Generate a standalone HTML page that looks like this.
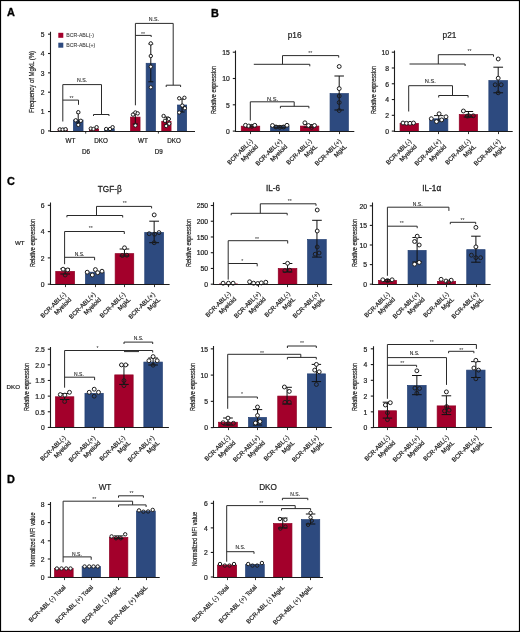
<!DOCTYPE html>
<html><head><meta charset="utf-8"><style>
html,body{margin:0;padding:0;background:#fff;}
body{width:520px;height:632px;overflow:hidden;}
svg{display:block;font-family:"Liberation Sans", sans-serif;}
</style></head><body>
<svg width="520" height="632" viewBox="0 0 520 632">
<defs><filter id="gs" x="0" y="0" width="520" height="632" filterUnits="userSpaceOnUse"><feColorMatrix type="saturate" values="0"/></filter></defs>
<rect x="0" y="0" width="520" height="632" fill="#fff"/>
<rect x="0.5" y="0.5" width="519" height="631" fill="none" stroke="#000" stroke-width="1.2"/>
<rect x="58.05" y="129.4" width="9.3" height="1.75" fill="#a3002b" stroke="#8e0024" stroke-width="0.7"/>
<rect x="73.35" y="120.04" width="9.7" height="11.11" fill="#2d4a7f" stroke="#233f72" stroke-width="0.7"/>
<rect x="89.35" y="129.01" width="9.3" height="2.14" fill="#a3002b" stroke="#8e0024" stroke-width="0.7"/>
<rect x="104.55" y="128.81" width="9.7" height="2.34" fill="#2d4a7f" stroke="#233f72" stroke-width="0.7"/>
<rect x="130.55" y="117.11" width="9.5" height="14.04" fill="#a3002b" stroke="#8e0024" stroke-width="0.7"/>
<rect x="146.15" y="63.29" width="9.3" height="67.86" fill="#2d4a7f" stroke="#233f72" stroke-width="0.7"/>
<rect x="161.75" y="121.41" width="9.3" height="9.74" fill="#a3002b" stroke="#8e0024" stroke-width="0.7"/>
<rect x="177.45" y="105.02" width="9.2" height="26.13" fill="#2d4a7f" stroke="#233f72" stroke-width="0.7"/>
<line x1="85.7" y1="131" x2="85.7" y2="133.6" stroke="#1c1c1c" stroke-width="0.9"/>
<line x1="158.4" y1="131" x2="158.4" y2="133.6" stroke="#1c1c1c" stroke-width="0.9"/>
<circle cx="59.8" cy="129.4" r="1.7" fill="#fff" stroke="#1c1c1c" stroke-width="1.0"/>
<circle cx="62.7" cy="129.6" r="1.7" fill="#fff" stroke="#1c1c1c" stroke-width="1.0"/>
<circle cx="65.6" cy="129.2" r="1.7" fill="#fff" stroke="#1c1c1c" stroke-width="1.0"/>
<line x1="78.2" y1="113" x2="78.2" y2="123" stroke="#111" stroke-width="1.0"/>
<line x1="76.2" y1="113" x2="80.2" y2="113" stroke="#111" stroke-width="1.0"/>
<line x1="76.2" y1="123" x2="80.2" y2="123" stroke="#111" stroke-width="1.0"/>
<circle cx="78.3" cy="112.2" r="1.7" fill="#fff" stroke="#1c1c1c" stroke-width="1.0"/>
<circle cx="75.7" cy="120.3" r="1.7" fill="#fff" stroke="#1c1c1c" stroke-width="1.0"/>
<circle cx="80.8" cy="120.8" r="1.7" fill="#fff" stroke="#1c1c1c" stroke-width="1.0"/>
<circle cx="78.3" cy="124.9" r="1.7" fill="#fff" stroke="#1c1c1c" stroke-width="1.0"/>
<circle cx="90.8" cy="128.6" r="1.7" fill="#fff" stroke="#1c1c1c" stroke-width="1.0"/>
<circle cx="93.5" cy="129" r="1.7" fill="#fff" stroke="#1c1c1c" stroke-width="1.0"/>
<circle cx="96.6" cy="127.2" r="1.7" fill="#fff" stroke="#1c1c1c" stroke-width="1.0"/>
<circle cx="106.2" cy="129" r="1.7" fill="#fff" stroke="#1c1c1c" stroke-width="1.0"/>
<circle cx="110" cy="129" r="1.7" fill="#fff" stroke="#1c1c1c" stroke-width="1.0"/>
<circle cx="112.6" cy="127.2" r="1.7" fill="#fff" stroke="#1c1c1c" stroke-width="1.0"/>
<line x1="135.3" y1="112.5" x2="135.3" y2="124" stroke="#111" stroke-width="1.0"/>
<line x1="132.8" y1="112.5" x2="137.8" y2="112.5" stroke="#111" stroke-width="1.0"/>
<line x1="132.8" y1="124" x2="137.8" y2="124" stroke="#111" stroke-width="1.0"/>
<circle cx="133" cy="114.6" r="1.7" fill="#fff" stroke="#1c1c1c" stroke-width="1.0"/>
<circle cx="135.4" cy="112.5" r="1.7" fill="#fff" stroke="#1c1c1c" stroke-width="1.0"/>
<circle cx="137.7" cy="113.4" r="1.7" fill="#fff" stroke="#1c1c1c" stroke-width="1.0"/>
<circle cx="135.4" cy="125.5" r="1.7" fill="#fff" stroke="#1c1c1c" stroke-width="1.0"/>
<line x1="150.8" y1="44" x2="150.8" y2="81.8" stroke="#111" stroke-width="1.0"/>
<line x1="148.3" y1="44" x2="153.3" y2="44" stroke="#111" stroke-width="1.0"/>
<line x1="148.3" y1="81.8" x2="153.3" y2="81.8" stroke="#111" stroke-width="1.0"/>
<circle cx="150.8" cy="43.4" r="1.7" fill="#fff" stroke="#1c1c1c" stroke-width="1.0"/>
<circle cx="150.8" cy="56" r="1.7" fill="#fff" stroke="#1c1c1c" stroke-width="1.0"/>
<circle cx="150.8" cy="66.7" r="1.7" fill="#fff" stroke="#1c1c1c" stroke-width="1.0"/>
<circle cx="150.8" cy="87.3" r="1.7" fill="#fff" stroke="#1c1c1c" stroke-width="1.0"/>
<line x1="166.4" y1="117" x2="166.4" y2="125" stroke="#111" stroke-width="1.0"/>
<line x1="163.9" y1="117" x2="168.9" y2="117" stroke="#111" stroke-width="1.0"/>
<line x1="163.9" y1="125" x2="168.9" y2="125" stroke="#111" stroke-width="1.0"/>
<circle cx="163.6" cy="116" r="1.7" fill="#fff" stroke="#1c1c1c" stroke-width="1.0"/>
<circle cx="165" cy="120.8" r="1.7" fill="#fff" stroke="#1c1c1c" stroke-width="1.0"/>
<circle cx="168.8" cy="119" r="1.7" fill="#fff" stroke="#1c1c1c" stroke-width="1.0"/>
<circle cx="166.2" cy="126" r="1.7" fill="#fff" stroke="#1c1c1c" stroke-width="1.0"/>
<circle cx="169.2" cy="123.7" r="1.7" fill="#fff" stroke="#1c1c1c" stroke-width="1.0"/>
<line x1="182.05" y1="99" x2="182.05" y2="112" stroke="#111" stroke-width="1.0"/>
<line x1="179.55" y1="99" x2="184.55" y2="99" stroke="#111" stroke-width="1.0"/>
<line x1="179.55" y1="112" x2="184.55" y2="112" stroke="#111" stroke-width="1.0"/>
<circle cx="179.2" cy="98.3" r="1.7" fill="#fff" stroke="#1c1c1c" stroke-width="1.0"/>
<circle cx="184.4" cy="97.8" r="1.7" fill="#fff" stroke="#1c1c1c" stroke-width="1.0"/>
<circle cx="182.3" cy="105.6" r="1.7" fill="#fff" stroke="#1c1c1c" stroke-width="1.0"/>
<circle cx="179.2" cy="112.5" r="1.7" fill="#fff" stroke="#1c1c1c" stroke-width="1.0"/>
<circle cx="184.9" cy="108.2" r="1.7" fill="#fff" stroke="#1c1c1c" stroke-width="1.0"/>
<rect x="58.3" y="32.8" width="5" height="5" fill="#a3002b"/>
<rect x="58.3" y="42.7" width="5" height="5" fill="#2d4a7f"/>
<path d="M62.8,121.5V84.6H101.5V114.3" fill="none" stroke="#2a2a2a" stroke-width="1.0"/>
<path d="M93.5,116V114.5H109V116" fill="none" stroke="#2a2a2a" stroke-width="1.0"/>
<path d="M62.8,100.1H78.5V104.8" fill="none" stroke="#2a2a2a" stroke-width="1.0"/>
<path d="M135.4,105.3V23.4H173.2V85.2" fill="none" stroke="#2a2a2a" stroke-width="1.0"/>
<path d="M166.2,87V85.2H180.6V87" fill="none" stroke="#2a2a2a" stroke-width="1.0"/>
<path d="M135.4,35.4H151.2V37" fill="none" stroke="#2a2a2a" stroke-width="1.0"/>
<rect x="241.25" y="126.19" width="18.5" height="4.96" fill="#a3002b" stroke="#8e0024" stroke-width="0.7"/>
<line x1="250.5" y1="131.1" x2="250.5" y2="134.1" stroke="#333" stroke-width="1.0"/>
<rect x="270.55" y="126.61" width="18.5" height="4.54" fill="#2d4a7f" stroke="#233f72" stroke-width="0.7"/>
<line x1="279.5" y1="131.1" x2="279.5" y2="134.1" stroke="#333" stroke-width="1.0"/>
<rect x="300.35" y="126.08" width="18.5" height="5.07" fill="#a3002b" stroke="#8e0024" stroke-width="0.7"/>
<line x1="309.5" y1="131.1" x2="309.5" y2="134.1" stroke="#333" stroke-width="1.0"/>
<rect x="330.05" y="93.58" width="18.3" height="37.57" fill="#2d4a7f" stroke="#233f72" stroke-width="0.7"/>
<line x1="339.5" y1="131.1" x2="339.5" y2="134.1" stroke="#333" stroke-width="1.0"/>
<line x1="250.5" y1="125.3" x2="250.5" y2="126.8" stroke="#111" stroke-width="1.0"/>
<line x1="244.5" y1="125.3" x2="256.5" y2="125.3" stroke="#111" stroke-width="1.0"/>
<line x1="244.5" y1="126.8" x2="256.5" y2="126.8" stroke="#111" stroke-width="1.0"/>
<circle cx="245.5" cy="125.3" r="1.95" fill="#fff" stroke="#1c1c1c" stroke-width="1.0"/>
<circle cx="248.8" cy="126" r="1.95" fill="#fff" stroke="#1c1c1c" stroke-width="1.0"/>
<circle cx="251.8" cy="126.3" r="1.95" fill="none" stroke="#1c1c1c" stroke-width="1.0"/>
<circle cx="254.8" cy="125.3" r="1.95" fill="#fff" stroke="#1c1c1c" stroke-width="1.0"/>
<line x1="279.8" y1="125.8" x2="279.8" y2="127.8" stroke="#111" stroke-width="1.0"/>
<line x1="273.8" y1="125.8" x2="285.8" y2="125.8" stroke="#111" stroke-width="1.0"/>
<line x1="273.8" y1="127.8" x2="285.8" y2="127.8" stroke="#111" stroke-width="1.0"/>
<circle cx="272.5" cy="125.5" r="1.95" fill="#fff" stroke="#1c1c1c" stroke-width="1.0"/>
<circle cx="276" cy="127" r="1.95" fill="none" stroke="#1c1c1c" stroke-width="1.0"/>
<circle cx="279.8" cy="127.3" r="1.95" fill="none" stroke="#1c1c1c" stroke-width="1.0"/>
<circle cx="283.5" cy="127" r="1.95" fill="none" stroke="#1c1c1c" stroke-width="1.0"/>
<circle cx="287" cy="125.3" r="1.95" fill="#fff" stroke="#1c1c1c" stroke-width="1.0"/>
<line x1="309.6" y1="124.6" x2="309.6" y2="127.2" stroke="#111" stroke-width="1.0"/>
<line x1="303.6" y1="124.6" x2="315.6" y2="124.6" stroke="#111" stroke-width="1.0"/>
<line x1="303.6" y1="127.2" x2="315.6" y2="127.2" stroke="#111" stroke-width="1.0"/>
<circle cx="304.9" cy="122.8" r="1.95" fill="#fff" stroke="#1c1c1c" stroke-width="1.0"/>
<circle cx="308.5" cy="125.5" r="1.95" fill="#fff" stroke="#1c1c1c" stroke-width="1.0"/>
<circle cx="311.6" cy="127.4" r="1.95" fill="none" stroke="#1c1c1c" stroke-width="1.0"/>
<circle cx="314.5" cy="125.5" r="1.95" fill="#fff" stroke="#1c1c1c" stroke-width="1.0"/>
<line x1="339.2" y1="76" x2="339.2" y2="110" stroke="#111" stroke-width="1.0"/>
<line x1="334.45" y1="76" x2="343.95" y2="76" stroke="#111" stroke-width="1.0"/>
<line x1="334.45" y1="110" x2="343.95" y2="110" stroke="#111" stroke-width="1.0"/>
<circle cx="339.2" cy="66.5" r="1.95" fill="#fff" stroke="#1c1c1c" stroke-width="1.0"/>
<circle cx="339.2" cy="88.6" r="1.95" fill="#fff" stroke="#1c1c1c" stroke-width="1.0"/>
<circle cx="339.2" cy="96" r="1.95" fill="none" stroke="#1c1c1c" stroke-width="1.0"/>
<circle cx="339.2" cy="102.5" r="1.95" fill="none" stroke="#1c1c1c" stroke-width="1.0"/>
<circle cx="339.2" cy="110.5" r="1.95" fill="none" stroke="#1c1c1c" stroke-width="1.0"/>
<path d="M253.8,64.3H309.8V66.3" fill="none" stroke="#2a2a2a" stroke-width="1.0"/>
<path d="M282.5,64.3V55.6H338.7V57.6" fill="none" stroke="#2a2a2a" stroke-width="1.0"/>
<path d="M250.3,120.6V101.8H294.2V106.3" fill="none" stroke="#2a2a2a" stroke-width="1.0"/>
<path d="M280.4,108.3V106.3H308.9V108.3" fill="none" stroke="#2a2a2a" stroke-width="1.0"/>
<rect x="400.05" y="123.4" width="18.3" height="7.75" fill="#a3002b" stroke="#8e0024" stroke-width="0.7"/>
<line x1="409.5" y1="131.1" x2="409.5" y2="134.1" stroke="#333" stroke-width="1.0"/>
<rect x="429.65" y="118.83" width="18.2" height="12.32" fill="#2d4a7f" stroke="#233f72" stroke-width="0.7"/>
<line x1="438.5" y1="131.1" x2="438.5" y2="134.1" stroke="#333" stroke-width="1.0"/>
<rect x="459.25" y="114.57" width="18.3" height="16.58" fill="#a3002b" stroke="#8e0024" stroke-width="0.7"/>
<line x1="468.5" y1="131.1" x2="468.5" y2="134.1" stroke="#333" stroke-width="1.0"/>
<rect x="488.85" y="80.56" width="18.7" height="50.59" fill="#2d4a7f" stroke="#233f72" stroke-width="0.7"/>
<line x1="498.5" y1="131.1" x2="498.5" y2="134.1" stroke="#333" stroke-width="1.0"/>
<circle cx="403" cy="123" r="1.95" fill="#fff" stroke="#1c1c1c" stroke-width="1.0"/>
<circle cx="406.5" cy="123.3" r="1.95" fill="#fff" stroke="#1c1c1c" stroke-width="1.0"/>
<circle cx="410" cy="123.3" r="1.95" fill="#fff" stroke="#1c1c1c" stroke-width="1.0"/>
<circle cx="413.5" cy="123" r="1.95" fill="#fff" stroke="#1c1c1c" stroke-width="1.0"/>
<line x1="438.75" y1="115.6" x2="438.75" y2="121" stroke="#111" stroke-width="1.0"/>
<line x1="434.02" y1="115.6" x2="443.48" y2="115.6" stroke="#111" stroke-width="1.0"/>
<line x1="434.02" y1="121" x2="443.48" y2="121" stroke="#111" stroke-width="1.0"/>
<circle cx="431.3" cy="118.7" r="1.95" fill="#fff" stroke="#1c1c1c" stroke-width="1.0"/>
<circle cx="436.5" cy="121.6" r="1.95" fill="#fff" stroke="#1c1c1c" stroke-width="1.0"/>
<circle cx="439.1" cy="113.8" r="1.95" fill="#fff" stroke="#1c1c1c" stroke-width="1.0"/>
<circle cx="441.7" cy="119.9" r="1.95" fill="#fff" stroke="#1c1c1c" stroke-width="1.0"/>
<circle cx="446" cy="116.8" r="1.95" fill="#fff" stroke="#1c1c1c" stroke-width="1.0"/>
<line x1="468.4" y1="111.5" x2="468.4" y2="117" stroke="#111" stroke-width="1.0"/>
<line x1="463.65" y1="111.5" x2="473.15" y2="111.5" stroke="#111" stroke-width="1.0"/>
<line x1="463.65" y1="117" x2="473.15" y2="117" stroke="#111" stroke-width="1.0"/>
<circle cx="463.4" cy="111" r="1.95" fill="#fff" stroke="#1c1c1c" stroke-width="1.0"/>
<circle cx="468.9" cy="115.8" r="1.95" fill="none" stroke="#1c1c1c" stroke-width="1.0"/>
<circle cx="473.3" cy="115.8" r="1.95" fill="none" stroke="#1c1c1c" stroke-width="1.0"/>
<circle cx="467.2" cy="116.1" r="1.95" fill="none" stroke="#1c1c1c" stroke-width="1.0"/>
<line x1="498.2" y1="67.2" x2="498.2" y2="92.8" stroke="#111" stroke-width="1.0"/>
<line x1="493.35" y1="67.2" x2="503.05" y2="67.2" stroke="#111" stroke-width="1.0"/>
<line x1="493.35" y1="92.8" x2="503.05" y2="92.8" stroke="#111" stroke-width="1.0"/>
<circle cx="498.2" cy="59" r="1.95" fill="#fff" stroke="#1c1c1c" stroke-width="1.0"/>
<circle cx="498.2" cy="78.2" r="1.95" fill="#fff" stroke="#1c1c1c" stroke-width="1.0"/>
<circle cx="495.2" cy="84.8" r="1.95" fill="none" stroke="#1c1c1c" stroke-width="1.0"/>
<circle cx="501.2" cy="84.8" r="1.95" fill="none" stroke="#1c1c1c" stroke-width="1.0"/>
<circle cx="498.2" cy="92.8" r="1.95" fill="none" stroke="#1c1c1c" stroke-width="1.0"/>
<path d="M409.5,64H465.1V66" fill="none" stroke="#2a2a2a" stroke-width="1.0"/>
<path d="M438.3,64V54.7H493.5V56.7" fill="none" stroke="#2a2a2a" stroke-width="1.0"/>
<path d="M408.7,111.5V85.7H452.5V95.5" fill="none" stroke="#2a2a2a" stroke-width="1.0"/>
<path d="M438.7,97.5V95.5H468.1V97.5" fill="none" stroke="#2a2a2a" stroke-width="1.0"/>
<rect x="55.75" y="271.4" width="18.8" height="12.75" fill="#a3002b" stroke="#8e0024" stroke-width="0.7"/>
<line x1="65.5" y1="284.2" x2="65.5" y2="287.1" stroke="#333" stroke-width="1.0"/>
<rect x="85.45" y="272.19" width="18.8" height="11.96" fill="#2d4a7f" stroke="#233f72" stroke-width="0.7"/>
<line x1="95.5" y1="284.2" x2="95.5" y2="287.1" stroke="#333" stroke-width="1.0"/>
<rect x="115.15" y="253.65" width="18.6" height="30.5" fill="#a3002b" stroke="#8e0024" stroke-width="0.7"/>
<line x1="124.5" y1="284.2" x2="124.5" y2="287.1" stroke="#333" stroke-width="1.0"/>
<rect x="144.75" y="232.48" width="18.8" height="51.67" fill="#2d4a7f" stroke="#233f72" stroke-width="0.7"/>
<line x1="154.5" y1="284.2" x2="154.5" y2="287.1" stroke="#333" stroke-width="1.0"/>
<line x1="65.15" y1="268.8" x2="65.15" y2="274" stroke="#111" stroke-width="1.0"/>
<line x1="60.28" y1="268.8" x2="70.03" y2="268.8" stroke="#111" stroke-width="1.0"/>
<line x1="60.28" y1="274" x2="70.03" y2="274" stroke="#111" stroke-width="1.0"/>
<circle cx="63.1" cy="269.2" r="1.95" fill="#fff" stroke="#1c1c1c" stroke-width="1.0"/>
<circle cx="67.7" cy="269.9" r="1.95" fill="#fff" stroke="#1c1c1c" stroke-width="1.0"/>
<circle cx="65.15" cy="275" r="1.95" fill="none" stroke="#1c1c1c" stroke-width="1.0"/>
<circle cx="87.2" cy="272.2" r="1.95" fill="#fff" stroke="#1c1c1c" stroke-width="1.0"/>
<circle cx="92.3" cy="275" r="1.95" fill="#fff" stroke="#1c1c1c" stroke-width="1.0"/>
<circle cx="95.4" cy="269.6" r="1.95" fill="#fff" stroke="#1c1c1c" stroke-width="1.0"/>
<circle cx="97.7" cy="272.7" r="1.95" fill="#fff" stroke="#1c1c1c" stroke-width="1.0"/>
<circle cx="102" cy="271.2" r="1.95" fill="#fff" stroke="#1c1c1c" stroke-width="1.0"/>
<line x1="124.45" y1="249" x2="124.45" y2="256" stroke="#111" stroke-width="1.0"/>
<line x1="119.62" y1="249" x2="129.27" y2="249" stroke="#111" stroke-width="1.0"/>
<line x1="119.62" y1="256" x2="129.27" y2="256" stroke="#111" stroke-width="1.0"/>
<circle cx="124.5" cy="247.8" r="1.95" fill="#fff" stroke="#1c1c1c" stroke-width="1.0"/>
<circle cx="122.4" cy="255.5" r="1.95" fill="none" stroke="#1c1c1c" stroke-width="1.0"/>
<circle cx="126.8" cy="255.2" r="1.95" fill="none" stroke="#1c1c1c" stroke-width="1.0"/>
<line x1="154.15" y1="221.2" x2="154.15" y2="242.7" stroke="#111" stroke-width="1.0"/>
<line x1="149.28" y1="221.2" x2="159.03" y2="221.2" stroke="#111" stroke-width="1.0"/>
<line x1="149.28" y1="242.7" x2="159.03" y2="242.7" stroke="#111" stroke-width="1.0"/>
<circle cx="154.2" cy="214.9" r="1.95" fill="#fff" stroke="#1c1c1c" stroke-width="1.0"/>
<circle cx="149.2" cy="233.7" r="1.95" fill="none" stroke="#1c1c1c" stroke-width="1.0"/>
<circle cx="154.6" cy="234.2" r="1.95" fill="none" stroke="#1c1c1c" stroke-width="1.0"/>
<circle cx="159" cy="232.6" r="1.95" fill="none" stroke="#1c1c1c" stroke-width="1.0"/>
<circle cx="154.2" cy="242.7" r="1.95" fill="none" stroke="#1c1c1c" stroke-width="1.0"/>
<path d="M66.9,217.3V215.5H122.7V217.5" fill="none" stroke="#2a2a2a" stroke-width="1.0"/>
<path d="M96.5,215.5V206.4H151.6V208.4" fill="none" stroke="#2a2a2a" stroke-width="1.0"/>
<path d="M64.6,264.2V231.5H124.3V234" fill="none" stroke="#2a2a2a" stroke-width="1.0"/>
<path d="M64.6,257.3H94.6V260.2" fill="none" stroke="#2a2a2a" stroke-width="1.0"/>
<rect x="219.55" y="283.92" width="17.8" height="0.23" fill="#a3002b" stroke="#8e0024" stroke-width="0.7"/>
<line x1="228.5" y1="284.2" x2="228.5" y2="287.1" stroke="#333" stroke-width="1.0"/>
<rect x="248.95" y="284.17" width="18.3" height="0.1" fill="#2d4a7f" stroke="#233f72" stroke-width="0.7"/>
<line x1="258.5" y1="284.2" x2="258.5" y2="287.1" stroke="#333" stroke-width="1.0"/>
<rect x="278.25" y="268.56" width="18.6" height="15.59" fill="#a3002b" stroke="#8e0024" stroke-width="0.7"/>
<line x1="287.5" y1="284.2" x2="287.5" y2="287.1" stroke="#333" stroke-width="1.0"/>
<rect x="307.65" y="239.53" width="18.6" height="44.62" fill="#2d4a7f" stroke="#233f72" stroke-width="0.7"/>
<line x1="317.5" y1="284.2" x2="317.5" y2="287.1" stroke="#333" stroke-width="1.0"/>
<circle cx="223.1" cy="283.2" r="1.95" fill="#fff" stroke="#1c1c1c" stroke-width="1.0"/>
<circle cx="228.5" cy="283.2" r="1.95" fill="#fff" stroke="#1c1c1c" stroke-width="1.0"/>
<circle cx="233.1" cy="283.2" r="1.95" fill="#fff" stroke="#1c1c1c" stroke-width="1.0"/>
<circle cx="249.6" cy="281.8" r="1.95" fill="#fff" stroke="#1c1c1c" stroke-width="1.0"/>
<circle cx="253.6" cy="283.2" r="1.95" fill="#fff" stroke="#1c1c1c" stroke-width="1.0"/>
<circle cx="257.7" cy="283.5" r="1.95" fill="#fff" stroke="#1c1c1c" stroke-width="1.0"/>
<circle cx="261.3" cy="282.9" r="1.95" fill="#fff" stroke="#1c1c1c" stroke-width="1.0"/>
<circle cx="265.8" cy="282.2" r="1.95" fill="#fff" stroke="#1c1c1c" stroke-width="1.0"/>
<line x1="287.55" y1="263.5" x2="287.55" y2="272" stroke="#111" stroke-width="1.0"/>
<line x1="282.72" y1="263.5" x2="292.37" y2="263.5" stroke="#111" stroke-width="1.0"/>
<line x1="282.72" y1="272" x2="292.37" y2="272" stroke="#111" stroke-width="1.0"/>
<circle cx="287.6" cy="263.3" r="1.95" fill="#fff" stroke="#1c1c1c" stroke-width="1.0"/>
<circle cx="284.9" cy="270.7" r="1.95" fill="none" stroke="#1c1c1c" stroke-width="1.0"/>
<circle cx="289.8" cy="270.2" r="1.95" fill="none" stroke="#1c1c1c" stroke-width="1.0"/>
<line x1="316.95" y1="220.3" x2="316.95" y2="257.1" stroke="#111" stroke-width="1.0"/>
<line x1="312.13" y1="220.3" x2="321.78" y2="220.3" stroke="#111" stroke-width="1.0"/>
<line x1="312.13" y1="257.1" x2="321.78" y2="257.1" stroke="#111" stroke-width="1.0"/>
<circle cx="317.2" cy="210" r="1.95" fill="#fff" stroke="#1c1c1c" stroke-width="1.0"/>
<circle cx="317.2" cy="231" r="1.95" fill="#fff" stroke="#1c1c1c" stroke-width="1.0"/>
<circle cx="317.2" cy="247" r="1.95" fill="none" stroke="#1c1c1c" stroke-width="1.0"/>
<circle cx="315.2" cy="254.2" r="1.95" fill="none" stroke="#1c1c1c" stroke-width="1.0"/>
<circle cx="319.1" cy="253" r="1.95" fill="none" stroke="#1c1c1c" stroke-width="1.0"/>
<path d="M231.2,215.2V213.3H287.2V215.3" fill="none" stroke="#2a2a2a" stroke-width="1.0"/>
<path d="M260.3,213.3V203.8H316V205.8" fill="none" stroke="#2a2a2a" stroke-width="1.0"/>
<path d="M228.2,279.6V240.7H287.7V243.5" fill="none" stroke="#2a2a2a" stroke-width="1.0"/>
<path d="M228.2,263.5H257.2V266.3" fill="none" stroke="#2a2a2a" stroke-width="1.0"/>
<rect x="378.55" y="280.43" width="18" height="3.72" fill="#a3002b" stroke="#8e0024" stroke-width="0.7"/>
<line x1="387.5" y1="284.2" x2="387.5" y2="287.1" stroke="#333" stroke-width="1.0"/>
<rect x="408.05" y="250.45" width="18.1" height="33.7" fill="#2d4a7f" stroke="#233f72" stroke-width="0.7"/>
<line x1="417.5" y1="284.2" x2="417.5" y2="287.1" stroke="#333" stroke-width="1.0"/>
<rect x="437.35" y="281.34" width="18.3" height="2.81" fill="#a3002b" stroke="#8e0024" stroke-width="0.7"/>
<line x1="446.5" y1="284.2" x2="446.5" y2="287.1" stroke="#333" stroke-width="1.0"/>
<rect x="466.75" y="249.66" width="18.3" height="34.49" fill="#2d4a7f" stroke="#233f72" stroke-width="0.7"/>
<line x1="476.5" y1="284.2" x2="476.5" y2="287.1" stroke="#333" stroke-width="1.0"/>
<line x1="387.55" y1="279.6" x2="387.55" y2="281.6" stroke="#111" stroke-width="1.0"/>
<line x1="382.87" y1="279.6" x2="392.22" y2="279.6" stroke="#111" stroke-width="1.0"/>
<line x1="382.87" y1="281.6" x2="392.22" y2="281.6" stroke="#111" stroke-width="1.0"/>
<circle cx="382.8" cy="279.8" r="1.95" fill="#fff" stroke="#1c1c1c" stroke-width="1.0"/>
<circle cx="387.5" cy="280.6" r="1.95" fill="none" stroke="#1c1c1c" stroke-width="1.0"/>
<circle cx="392.1" cy="279.8" r="1.95" fill="#fff" stroke="#1c1c1c" stroke-width="1.0"/>
<line x1="417.1" y1="237.5" x2="417.1" y2="262" stroke="#111" stroke-width="1.0"/>
<line x1="412.4" y1="237.5" x2="421.8" y2="237.5" stroke="#111" stroke-width="1.0"/>
<line x1="412.4" y1="262" x2="421.8" y2="262" stroke="#111" stroke-width="1.0"/>
<circle cx="417.2" cy="236.2" r="1.95" fill="#fff" stroke="#1c1c1c" stroke-width="1.0"/>
<circle cx="414.6" cy="241.5" r="1.95" fill="#fff" stroke="#1c1c1c" stroke-width="1.0"/>
<circle cx="419.2" cy="245" r="1.95" fill="#fff" stroke="#1c1c1c" stroke-width="1.0"/>
<circle cx="414.6" cy="264.2" r="1.95" fill="#fff" stroke="#1c1c1c" stroke-width="1.0"/>
<circle cx="419.2" cy="262.4" r="1.95" fill="#fff" stroke="#1c1c1c" stroke-width="1.0"/>
<circle cx="441.1" cy="279.3" r="1.95" fill="#fff" stroke="#1c1c1c" stroke-width="1.0"/>
<circle cx="446" cy="281" r="1.95" fill="#fff" stroke="#1c1c1c" stroke-width="1.0"/>
<circle cx="451.2" cy="280.2" r="1.95" fill="#fff" stroke="#1c1c1c" stroke-width="1.0"/>
<circle cx="448.6" cy="282.2" r="1.95" fill="none" stroke="#1c1c1c" stroke-width="1.0"/>
<line x1="475.9" y1="236.2" x2="475.9" y2="262.2" stroke="#111" stroke-width="1.0"/>
<line x1="471.15" y1="236.2" x2="480.65" y2="236.2" stroke="#111" stroke-width="1.0"/>
<line x1="471.15" y1="262.2" x2="480.65" y2="262.2" stroke="#111" stroke-width="1.0"/>
<circle cx="475.9" cy="227.4" r="1.95" fill="#fff" stroke="#1c1c1c" stroke-width="1.0"/>
<circle cx="475.9" cy="246.9" r="1.95" fill="#fff" stroke="#1c1c1c" stroke-width="1.0"/>
<circle cx="471.4" cy="255.2" r="1.95" fill="none" stroke="#1c1c1c" stroke-width="1.0"/>
<circle cx="475.9" cy="257.7" r="1.95" fill="none" stroke="#1c1c1c" stroke-width="1.0"/>
<circle cx="480.6" cy="257.7" r="1.95" fill="none" stroke="#1c1c1c" stroke-width="1.0"/>
<path d="M387.4,275.8V207.2H448.9V210.9" fill="none" stroke="#2a2a2a" stroke-width="1.0"/>
<path d="M387.4,226.2H417.2V228.2" fill="none" stroke="#2a2a2a" stroke-width="1.0"/>
<path d="M450.3,224.2V222.3H475.7V224.2" fill="none" stroke="#2a2a2a" stroke-width="1.0"/>
<rect x="55.45" y="396.78" width="18.4" height="30.37" fill="#a3002b" stroke="#8e0024" stroke-width="0.7"/>
<line x1="64.5" y1="427.4" x2="64.5" y2="430.1" stroke="#333" stroke-width="1.0"/>
<rect x="84.95" y="393.34" width="18.3" height="33.81" fill="#2d4a7f" stroke="#233f72" stroke-width="0.7"/>
<line x1="94.5" y1="427.4" x2="94.5" y2="430.1" stroke="#333" stroke-width="1.0"/>
<rect x="114.75" y="374.89" width="18.4" height="52.26" fill="#a3002b" stroke="#8e0024" stroke-width="0.7"/>
<line x1="124.5" y1="427.4" x2="124.5" y2="430.1" stroke="#333" stroke-width="1.0"/>
<rect x="143.85" y="362.06" width="18.5" height="65.09" fill="#2d4a7f" stroke="#233f72" stroke-width="0.7"/>
<line x1="153.5" y1="427.4" x2="153.5" y2="430.1" stroke="#333" stroke-width="1.0"/>
<line x1="64.65" y1="393.5" x2="64.65" y2="399.5" stroke="#111" stroke-width="1.0"/>
<line x1="59.88" y1="393.5" x2="69.43" y2="393.5" stroke="#111" stroke-width="1.0"/>
<line x1="59.88" y1="399.5" x2="69.43" y2="399.5" stroke="#111" stroke-width="1.0"/>
<circle cx="60.3" cy="394.6" r="1.95" fill="#fff" stroke="#1c1c1c" stroke-width="1.0"/>
<circle cx="64.9" cy="395.1" r="1.95" fill="#fff" stroke="#1c1c1c" stroke-width="1.0"/>
<circle cx="69.5" cy="392.3" r="1.95" fill="#fff" stroke="#1c1c1c" stroke-width="1.0"/>
<circle cx="64.65" cy="401.5" r="1.95" fill="none" stroke="#1c1c1c" stroke-width="1.0"/>
<circle cx="89.2" cy="392.3" r="1.95" fill="#fff" stroke="#1c1c1c" stroke-width="1.0"/>
<circle cx="94.2" cy="389.2" r="1.95" fill="#fff" stroke="#1c1c1c" stroke-width="1.0"/>
<circle cx="98.5" cy="392.3" r="1.95" fill="#fff" stroke="#1c1c1c" stroke-width="1.0"/>
<circle cx="94.2" cy="396.2" r="1.95" fill="none" stroke="#1c1c1c" stroke-width="1.0"/>
<line x1="123.95" y1="364.9" x2="123.95" y2="384.4" stroke="#111" stroke-width="1.0"/>
<line x1="119.18" y1="364.9" x2="128.72" y2="364.9" stroke="#111" stroke-width="1.0"/>
<line x1="119.18" y1="384.4" x2="128.72" y2="384.4" stroke="#111" stroke-width="1.0"/>
<circle cx="121.5" cy="364.9" r="1.95" fill="#fff" stroke="#1c1c1c" stroke-width="1.0"/>
<circle cx="125.7" cy="364.9" r="1.95" fill="#fff" stroke="#1c1c1c" stroke-width="1.0"/>
<circle cx="123.95" cy="380.6" r="1.95" fill="none" stroke="#1c1c1c" stroke-width="1.0"/>
<circle cx="123.95" cy="385.6" r="1.95" fill="none" stroke="#1c1c1c" stroke-width="1.0"/>
<line x1="153.1" y1="358" x2="153.1" y2="365" stroke="#111" stroke-width="1.0"/>
<line x1="148.3" y1="358" x2="157.9" y2="358" stroke="#111" stroke-width="1.0"/>
<line x1="148.3" y1="365" x2="157.9" y2="365" stroke="#111" stroke-width="1.0"/>
<circle cx="153.1" cy="356.6" r="1.95" fill="#fff" stroke="#1c1c1c" stroke-width="1.0"/>
<circle cx="148.9" cy="360.7" r="1.95" fill="#fff" stroke="#1c1c1c" stroke-width="1.0"/>
<circle cx="157.2" cy="360.7" r="1.95" fill="#fff" stroke="#1c1c1c" stroke-width="1.0"/>
<circle cx="153.1" cy="365.2" r="1.95" fill="none" stroke="#1c1c1c" stroke-width="1.0"/>
<path d="M64.6,387.7V350.5H152.7V352.5" fill="none" stroke="#2a2a2a" stroke-width="1.0"/>
<path d="M124,351.6H139" fill="none" stroke="#2a2a2a" stroke-width="1.0"/>
<path d="M64.6,377.2H94.6V380.1" fill="none" stroke="#2a2a2a" stroke-width="1.0"/>
<path d="M124,344V342.1H152.7V344" fill="none" stroke="#2a2a2a" stroke-width="1.0"/>
<rect x="218.55" y="422.23" width="18.8" height="4.92" fill="#a3002b" stroke="#8e0024" stroke-width="0.7"/>
<line x1="228.5" y1="427.6" x2="228.5" y2="430.1" stroke="#333" stroke-width="1.0"/>
<rect x="248.55" y="417.45" width="18" height="9.7" fill="#2d4a7f" stroke="#233f72" stroke-width="0.7"/>
<line x1="257.5" y1="427.6" x2="257.5" y2="430.1" stroke="#333" stroke-width="1.0"/>
<rect x="277.75" y="396.08" width="18.6" height="31.07" fill="#a3002b" stroke="#8e0024" stroke-width="0.7"/>
<line x1="287.5" y1="427.6" x2="287.5" y2="430.1" stroke="#333" stroke-width="1.0"/>
<rect x="307.35" y="373.88" width="18.1" height="53.27" fill="#2d4a7f" stroke="#233f72" stroke-width="0.7"/>
<line x1="316.5" y1="427.6" x2="316.5" y2="430.1" stroke="#333" stroke-width="1.0"/>
<line x1="227.95" y1="418" x2="227.95" y2="425" stroke="#111" stroke-width="1.0"/>
<line x1="223.07" y1="418" x2="232.82" y2="418" stroke="#111" stroke-width="1.0"/>
<line x1="223.07" y1="425" x2="232.82" y2="425" stroke="#111" stroke-width="1.0"/>
<circle cx="228" cy="418.1" r="1.95" fill="#fff" stroke="#1c1c1c" stroke-width="1.0"/>
<circle cx="223.1" cy="422.7" r="1.95" fill="none" stroke="#1c1c1c" stroke-width="1.0"/>
<circle cx="228.2" cy="423.6" r="1.95" fill="none" stroke="#1c1c1c" stroke-width="1.0"/>
<circle cx="233.4" cy="423.3" r="1.95" fill="none" stroke="#1c1c1c" stroke-width="1.0"/>
<line x1="257.55" y1="409.6" x2="257.55" y2="425" stroke="#111" stroke-width="1.0"/>
<line x1="252.87" y1="409.6" x2="262.22" y2="409.6" stroke="#111" stroke-width="1.0"/>
<line x1="252.87" y1="425" x2="262.22" y2="425" stroke="#111" stroke-width="1.0"/>
<circle cx="257.5" cy="407" r="1.95" fill="#fff" stroke="#1c1c1c" stroke-width="1.0"/>
<circle cx="257.5" cy="415.5" r="1.95" fill="#fff" stroke="#1c1c1c" stroke-width="1.0"/>
<circle cx="255.4" cy="423" r="1.95" fill="#fff" stroke="#1c1c1c" stroke-width="1.0"/>
<circle cx="260" cy="421.5" r="1.95" fill="#fff" stroke="#1c1c1c" stroke-width="1.0"/>
<line x1="287.05" y1="387.3" x2="287.05" y2="404" stroke="#111" stroke-width="1.0"/>
<line x1="282.22" y1="387.3" x2="291.87" y2="387.3" stroke="#111" stroke-width="1.0"/>
<line x1="282.22" y1="404" x2="291.87" y2="404" stroke="#111" stroke-width="1.0"/>
<circle cx="284.4" cy="387" r="1.95" fill="#fff" stroke="#1c1c1c" stroke-width="1.0"/>
<circle cx="289.3" cy="391.4" r="1.95" fill="#fff" stroke="#1c1c1c" stroke-width="1.0"/>
<circle cx="284.9" cy="402.3" r="1.95" fill="none" stroke="#1c1c1c" stroke-width="1.0"/>
<circle cx="289.3" cy="402.3" r="1.95" fill="none" stroke="#1c1c1c" stroke-width="1.0"/>
<line x1="316.4" y1="364.4" x2="316.4" y2="381.6" stroke="#111" stroke-width="1.0"/>
<line x1="311.7" y1="364.4" x2="321.1" y2="364.4" stroke="#111" stroke-width="1.0"/>
<line x1="311.7" y1="381.6" x2="321.1" y2="381.6" stroke="#111" stroke-width="1.0"/>
<circle cx="316.4" cy="364.4" r="1.95" fill="#fff" stroke="#1c1c1c" stroke-width="1.0"/>
<circle cx="314.7" cy="370.1" r="1.95" fill="#fff" stroke="#1c1c1c" stroke-width="1.0"/>
<circle cx="319.2" cy="371.8" r="1.95" fill="#fff" stroke="#1c1c1c" stroke-width="1.0"/>
<circle cx="316.4" cy="384.5" r="1.95" fill="none" stroke="#1c1c1c" stroke-width="1.0"/>
<path d="M227.7,408.8V354.3H300.8V357.4" fill="none" stroke="#2a2a2a" stroke-width="1.0"/>
<path d="M287.4,359.4V357.4H316.3V359.4" fill="none" stroke="#2a2a2a" stroke-width="1.0"/>
<path d="M227.7,397H257.4V398.8" fill="none" stroke="#2a2a2a" stroke-width="1.0"/>
<path d="M287.4,348V346H316.3V348" fill="none" stroke="#2a2a2a" stroke-width="1.0"/>
<rect x="378.35" y="410.77" width="18.2" height="16.38" fill="#a3002b" stroke="#8e0024" stroke-width="0.7"/>
<line x1="387.5" y1="427.6" x2="387.5" y2="430.1" stroke="#333" stroke-width="1.0"/>
<rect x="407.55" y="385.4" width="18.6" height="41.75" fill="#2d4a7f" stroke="#233f72" stroke-width="0.7"/>
<line x1="417.5" y1="427.6" x2="417.5" y2="430.1" stroke="#333" stroke-width="1.0"/>
<rect x="437.15" y="405.89" width="18.5" height="21.26" fill="#a3002b" stroke="#8e0024" stroke-width="0.7"/>
<line x1="446.5" y1="427.6" x2="446.5" y2="430.1" stroke="#333" stroke-width="1.0"/>
<rect x="466.65" y="370.11" width="18.4" height="57.04" fill="#2d4a7f" stroke="#233f72" stroke-width="0.7"/>
<line x1="476.5" y1="427.6" x2="476.5" y2="430.1" stroke="#333" stroke-width="1.0"/>
<line x1="387.45" y1="402.2" x2="387.45" y2="418.1" stroke="#111" stroke-width="1.0"/>
<line x1="382.73" y1="402.2" x2="392.17" y2="402.2" stroke="#111" stroke-width="1.0"/>
<line x1="382.73" y1="418.1" x2="392.17" y2="418.1" stroke="#111" stroke-width="1.0"/>
<circle cx="385.4" cy="405" r="1.95" fill="#fff" stroke="#1c1c1c" stroke-width="1.0"/>
<circle cx="390.3" cy="402.7" r="1.95" fill="#fff" stroke="#1c1c1c" stroke-width="1.0"/>
<circle cx="387.45" cy="412.7" r="1.95" fill="none" stroke="#1c1c1c" stroke-width="1.0"/>
<circle cx="387.45" cy="419.6" r="1.95" fill="none" stroke="#1c1c1c" stroke-width="1.0"/>
<line x1="416.85" y1="375.5" x2="416.85" y2="394.7" stroke="#111" stroke-width="1.0"/>
<line x1="412.03" y1="375.5" x2="421.68" y2="375.5" stroke="#111" stroke-width="1.0"/>
<line x1="412.03" y1="394.7" x2="421.68" y2="394.7" stroke="#111" stroke-width="1.0"/>
<circle cx="416.85" cy="370.8" r="1.95" fill="#fff" stroke="#1c1c1c" stroke-width="1.0"/>
<circle cx="414.9" cy="388.1" r="1.95" fill="none" stroke="#1c1c1c" stroke-width="1.0"/>
<circle cx="419.5" cy="388.5" r="1.95" fill="none" stroke="#1c1c1c" stroke-width="1.0"/>
<circle cx="416.85" cy="393.2" r="1.95" fill="none" stroke="#1c1c1c" stroke-width="1.0"/>
<line x1="446.4" y1="395.8" x2="446.4" y2="414.6" stroke="#111" stroke-width="1.0"/>
<line x1="441.6" y1="395.8" x2="451.2" y2="395.8" stroke="#111" stroke-width="1.0"/>
<line x1="441.6" y1="414.6" x2="451.2" y2="414.6" stroke="#111" stroke-width="1.0"/>
<circle cx="446.4" cy="391.9" r="1.95" fill="#fff" stroke="#1c1c1c" stroke-width="1.0"/>
<circle cx="446.6" cy="406.6" r="1.95" fill="none" stroke="#1c1c1c" stroke-width="1.0"/>
<circle cx="444.5" cy="411" r="1.95" fill="none" stroke="#1c1c1c" stroke-width="1.0"/>
<circle cx="449.1" cy="410.2" r="1.95" fill="none" stroke="#1c1c1c" stroke-width="1.0"/>
<line x1="475.85" y1="361.6" x2="475.85" y2="377.5" stroke="#111" stroke-width="1.0"/>
<line x1="471.08" y1="361.6" x2="480.62" y2="361.6" stroke="#111" stroke-width="1.0"/>
<line x1="471.08" y1="377.5" x2="480.62" y2="377.5" stroke="#111" stroke-width="1.0"/>
<circle cx="475.85" cy="360.3" r="1.95" fill="#fff" stroke="#1c1c1c" stroke-width="1.0"/>
<circle cx="473.9" cy="368" r="1.95" fill="#fff" stroke="#1c1c1c" stroke-width="1.0"/>
<circle cx="478.5" cy="370.1" r="1.95" fill="none" stroke="#1c1c1c" stroke-width="1.0"/>
<circle cx="475.85" cy="378.8" r="1.95" fill="none" stroke="#1c1c1c" stroke-width="1.0"/>
<path d="M387.4,398.8V344.5H476.4V348.9" fill="none" stroke="#2a2a2a" stroke-width="1.0"/>
<path d="M387.4,357.6H446.5V384.9" fill="none" stroke="#2a2a2a" stroke-width="1.0"/>
<path d="M387.4,365.3H416.6V367.2" fill="none" stroke="#2a2a2a" stroke-width="1.0"/>
<path d="M448.6,353.2V351.3H473.9V353.2" fill="none" stroke="#2a2a2a" stroke-width="1.0"/>
<rect x="54.55" y="568.63" width="18.6" height="8.52" fill="#a3002b" stroke="#8e0024" stroke-width="0.7"/>
<line x1="64.5" y1="577.2" x2="64.5" y2="580.1" stroke="#333" stroke-width="1.0"/>
<rect x="82.15" y="566.63" width="18.3" height="10.52" fill="#2d4a7f" stroke="#233f72" stroke-width="0.7"/>
<line x1="91.5" y1="577.2" x2="91.5" y2="580.1" stroke="#333" stroke-width="1.0"/>
<rect x="109.45" y="537.51" width="18.4" height="39.64" fill="#a3002b" stroke="#8e0024" stroke-width="0.7"/>
<line x1="118.5" y1="577.2" x2="118.5" y2="580.1" stroke="#333" stroke-width="1.0"/>
<rect x="136.45" y="511.12" width="18.8" height="66.03" fill="#2d4a7f" stroke="#233f72" stroke-width="0.7"/>
<line x1="146.5" y1="577.2" x2="146.5" y2="580.1" stroke="#333" stroke-width="1.0"/>
<circle cx="56.9" cy="568.5" r="1.7" fill="#fff" stroke="#1c1c1c" stroke-width="1.0"/>
<circle cx="61.5" cy="568.5" r="1.7" fill="#fff" stroke="#1c1c1c" stroke-width="1.0"/>
<circle cx="66.2" cy="568.5" r="1.7" fill="#fff" stroke="#1c1c1c" stroke-width="1.0"/>
<circle cx="70.5" cy="568.5" r="1.7" fill="#fff" stroke="#1c1c1c" stroke-width="1.0"/>
<circle cx="84.6" cy="566.5" r="1.7" fill="#fff" stroke="#1c1c1c" stroke-width="1.0"/>
<circle cx="89.2" cy="566.5" r="1.7" fill="#fff" stroke="#1c1c1c" stroke-width="1.0"/>
<circle cx="93.5" cy="566.5" r="1.7" fill="#fff" stroke="#1c1c1c" stroke-width="1.0"/>
<circle cx="97.7" cy="566.5" r="1.7" fill="#fff" stroke="#1c1c1c" stroke-width="1.0"/>
<line x1="118.65" y1="535.9" x2="118.65" y2="538.6" stroke="#111" stroke-width="1.0"/>
<line x1="113.88" y1="535.9" x2="123.42" y2="535.9" stroke="#111" stroke-width="1.0"/>
<line x1="113.88" y1="538.6" x2="123.42" y2="538.6" stroke="#111" stroke-width="1.0"/>
<circle cx="111.6" cy="536.4" r="1.7" fill="#fff" stroke="#1c1c1c" stroke-width="1.0"/>
<circle cx="116" cy="538.3" r="1.7" fill="none" stroke="#1c1c1c" stroke-width="1.0"/>
<circle cx="120.7" cy="538.3" r="1.7" fill="none" stroke="#1c1c1c" stroke-width="1.0"/>
<circle cx="125.2" cy="534.3" r="1.7" fill="#fff" stroke="#1c1c1c" stroke-width="1.0"/>
<circle cx="139" cy="510.4" r="1.7" fill="#fff" stroke="#1c1c1c" stroke-width="1.0"/>
<circle cx="143.4" cy="511.7" r="1.7" fill="none" stroke="#1c1c1c" stroke-width="1.0"/>
<circle cx="148.1" cy="511.5" r="1.7" fill="none" stroke="#1c1c1c" stroke-width="1.0"/>
<circle cx="152.7" cy="509.9" r="1.7" fill="#fff" stroke="#1c1c1c" stroke-width="1.0"/>
<path d="M63.1,562.3V501.2H132.6V504.9" fill="none" stroke="#2a2a2a" stroke-width="1.0"/>
<path d="M118.5,507V504.9H146.1V507" fill="none" stroke="#2a2a2a" stroke-width="1.0"/>
<path d="M63.1,556.9H91.2V559.8" fill="none" stroke="#2a2a2a" stroke-width="1.0"/>
<path d="M118.5,497.7V495.8H143.4V497.7" fill="none" stroke="#2a2a2a" stroke-width="1.0"/>
<rect x="217.55" y="565.07" width="19.1" height="12.08" fill="#a3002b" stroke="#8e0024" stroke-width="0.7"/>
<line x1="227.5" y1="577" x2="227.5" y2="580.1" stroke="#333" stroke-width="1.0"/>
<rect x="245.65" y="564.46" width="18.6" height="12.69" fill="#2d4a7f" stroke="#233f72" stroke-width="0.7"/>
<line x1="255.5" y1="577" x2="255.5" y2="580.1" stroke="#333" stroke-width="1.0"/>
<rect x="273.55" y="523.56" width="18.4" height="53.59" fill="#a3002b" stroke="#8e0024" stroke-width="0.7"/>
<line x1="282.5" y1="577" x2="282.5" y2="580.1" stroke="#333" stroke-width="1.0"/>
<rect x="301.45" y="519.63" width="18.3" height="57.52" fill="#2d4a7f" stroke="#233f72" stroke-width="0.7"/>
<line x1="310.5" y1="577" x2="310.5" y2="580.1" stroke="#333" stroke-width="1.0"/>
<circle cx="220" cy="564" r="1.7" fill="#fff" stroke="#1c1c1c" stroke-width="1.0"/>
<circle cx="224.8" cy="565.6" r="1.7" fill="none" stroke="#1c1c1c" stroke-width="1.0"/>
<circle cx="229.5" cy="565.6" r="1.7" fill="none" stroke="#1c1c1c" stroke-width="1.0"/>
<circle cx="234" cy="564" r="1.7" fill="#fff" stroke="#1c1c1c" stroke-width="1.0"/>
<circle cx="248.2" cy="564" r="1.7" fill="#fff" stroke="#1c1c1c" stroke-width="1.0"/>
<circle cx="252.5" cy="565.6" r="1.7" fill="none" stroke="#1c1c1c" stroke-width="1.0"/>
<circle cx="257.2" cy="565.6" r="1.7" fill="none" stroke="#1c1c1c" stroke-width="1.0"/>
<circle cx="261.9" cy="563" r="1.7" fill="#fff" stroke="#1c1c1c" stroke-width="1.0"/>
<line x1="282.75" y1="518" x2="282.75" y2="528" stroke="#111" stroke-width="1.0"/>
<line x1="277.98" y1="518" x2="287.52" y2="518" stroke="#111" stroke-width="1.0"/>
<line x1="277.98" y1="528" x2="287.52" y2="528" stroke="#111" stroke-width="1.0"/>
<circle cx="279.9" cy="519" r="1.7" fill="#fff" stroke="#1c1c1c" stroke-width="1.0"/>
<circle cx="285.4" cy="519.8" r="1.7" fill="#fff" stroke="#1c1c1c" stroke-width="1.0"/>
<circle cx="280.4" cy="528.6" r="1.7" fill="none" stroke="#1c1c1c" stroke-width="1.0"/>
<circle cx="285.4" cy="526.5" r="1.7" fill="none" stroke="#1c1c1c" stroke-width="1.0"/>
<line x1="310.6" y1="514" x2="310.6" y2="524" stroke="#111" stroke-width="1.0"/>
<line x1="305.85" y1="514" x2="315.35" y2="514" stroke="#111" stroke-width="1.0"/>
<line x1="305.85" y1="524" x2="315.35" y2="524" stroke="#111" stroke-width="1.0"/>
<circle cx="310.6" cy="512.9" r="1.7" fill="#fff" stroke="#1c1c1c" stroke-width="1.0"/>
<circle cx="310.6" cy="517.4" r="1.7" fill="#fff" stroke="#1c1c1c" stroke-width="1.0"/>
<circle cx="311.8" cy="520.7" r="1.7" fill="none" stroke="#1c1c1c" stroke-width="1.0"/>
<circle cx="308.1" cy="524.8" r="1.7" fill="none" stroke="#1c1c1c" stroke-width="1.0"/>
<path d="M226.7,561.7V505.6H295.2V508.6" fill="none" stroke="#2a2a2a" stroke-width="1.0"/>
<path d="M281.5,510.5V508.6H310.6V510.5" fill="none" stroke="#2a2a2a" stroke-width="1.0"/>
<path d="M226.7,551.7H254V553.8" fill="none" stroke="#2a2a2a" stroke-width="1.0"/>
<path d="M282.4,500.2V498.3H307.8V500.2" fill="none" stroke="#2a2a2a" stroke-width="1.0"/>
<path d="M50.5,31.8V132M50,131.5H195" fill="none" stroke="#1c1c1c" stroke-width="1.1"/>
<path d="M48,130.9H50.5" fill="none" stroke="#1c1c1c" stroke-width="1.1"/>
<path d="M48,111.55H50.5" fill="none" stroke="#1c1c1c" stroke-width="1.1"/>
<path d="M48,92.2H50.5" fill="none" stroke="#1c1c1c" stroke-width="1.1"/>
<path d="M48,72.85H50.5" fill="none" stroke="#1c1c1c" stroke-width="1.1"/>
<path d="M48,53.5H50.5" fill="none" stroke="#1c1c1c" stroke-width="1.1"/>
<path d="M48,34.15H50.5" fill="none" stroke="#1c1c1c" stroke-width="1.1"/>
<path d="M235.5,50.6V132M235,131.5H354.3" fill="none" stroke="#1c1c1c" stroke-width="1.1"/>
<path d="M232.8,131.1H235.5" fill="none" stroke="#1c1c1c" stroke-width="1.1"/>
<path d="M232.8,104.8H235.5" fill="none" stroke="#1c1c1c" stroke-width="1.1"/>
<path d="M232.8,78.5H235.5" fill="none" stroke="#1c1c1c" stroke-width="1.1"/>
<path d="M232.8,52.2H235.5" fill="none" stroke="#1c1c1c" stroke-width="1.1"/>
<path d="M394.5,50.6V132M394,131.5H512.7" fill="none" stroke="#1c1c1c" stroke-width="1.1"/>
<path d="M391.8,131.1H394.5" fill="none" stroke="#1c1c1c" stroke-width="1.1"/>
<path d="M391.8,115.32H394.5" fill="none" stroke="#1c1c1c" stroke-width="1.1"/>
<path d="M391.8,99.54H394.5" fill="none" stroke="#1c1c1c" stroke-width="1.1"/>
<path d="M391.8,83.76H394.5" fill="none" stroke="#1c1c1c" stroke-width="1.1"/>
<path d="M391.8,67.98H394.5" fill="none" stroke="#1c1c1c" stroke-width="1.1"/>
<path d="M391.8,52.2H394.5" fill="none" stroke="#1c1c1c" stroke-width="1.1"/>
<path d="M50.5,202.4V285M50,284.5H169.6" fill="none" stroke="#1c1c1c" stroke-width="1.1"/>
<path d="M47.8,284.2H50.5" fill="none" stroke="#1c1c1c" stroke-width="1.1"/>
<path d="M47.8,257.9H50.5" fill="none" stroke="#1c1c1c" stroke-width="1.1"/>
<path d="M47.8,231.6H50.5" fill="none" stroke="#1c1c1c" stroke-width="1.1"/>
<path d="M47.8,205.3H50.5" fill="none" stroke="#1c1c1c" stroke-width="1.1"/>
<path d="M213.5,202.2V285M213,284.5H332.1" fill="none" stroke="#1c1c1c" stroke-width="1.1"/>
<path d="M210.8,284.2H213.5" fill="none" stroke="#1c1c1c" stroke-width="1.1"/>
<path d="M210.8,268.46H213.5" fill="none" stroke="#1c1c1c" stroke-width="1.1"/>
<path d="M210.8,252.72H213.5" fill="none" stroke="#1c1c1c" stroke-width="1.1"/>
<path d="M210.8,236.98H213.5" fill="none" stroke="#1c1c1c" stroke-width="1.1"/>
<path d="M210.8,221.24H213.5" fill="none" stroke="#1c1c1c" stroke-width="1.1"/>
<path d="M210.8,205.5H213.5" fill="none" stroke="#1c1c1c" stroke-width="1.1"/>
<path d="M372.5,202.6V285M372,284.5H490.6" fill="none" stroke="#1c1c1c" stroke-width="1.1"/>
<path d="M369.8,284.2H372.5" fill="none" stroke="#1c1c1c" stroke-width="1.1"/>
<path d="M369.8,264.6H372.5" fill="none" stroke="#1c1c1c" stroke-width="1.1"/>
<path d="M369.8,245H372.5" fill="none" stroke="#1c1c1c" stroke-width="1.1"/>
<path d="M369.8,225.4H372.5" fill="none" stroke="#1c1c1c" stroke-width="1.1"/>
<path d="M369.8,205.8H372.5" fill="none" stroke="#1c1c1c" stroke-width="1.1"/>
<path d="M50.5,346.9V428M50,427.5H168.9" fill="none" stroke="#1c1c1c" stroke-width="1.1"/>
<path d="M47.8,427.4H50.5" fill="none" stroke="#1c1c1c" stroke-width="1.1"/>
<path d="M47.8,411.76H50.5" fill="none" stroke="#1c1c1c" stroke-width="1.1"/>
<path d="M47.8,396.12H50.5" fill="none" stroke="#1c1c1c" stroke-width="1.1"/>
<path d="M47.8,380.48H50.5" fill="none" stroke="#1c1c1c" stroke-width="1.1"/>
<path d="M47.8,364.84H50.5" fill="none" stroke="#1c1c1c" stroke-width="1.1"/>
<path d="M47.8,349.2H50.5" fill="none" stroke="#1c1c1c" stroke-width="1.1"/>
<path d="M213.5,346.1V428M213,427.5H331.8" fill="none" stroke="#1c1c1c" stroke-width="1.1"/>
<path d="M210.8,427.6H213.5" fill="none" stroke="#1c1c1c" stroke-width="1.1"/>
<path d="M210.8,401.35H213.5" fill="none" stroke="#1c1c1c" stroke-width="1.1"/>
<path d="M210.8,375.1H213.5" fill="none" stroke="#1c1c1c" stroke-width="1.1"/>
<path d="M210.8,348.85H213.5" fill="none" stroke="#1c1c1c" stroke-width="1.1"/>
<path d="M373.5,346.2V428M373,427.5H491.9" fill="none" stroke="#1c1c1c" stroke-width="1.1"/>
<path d="M370.8,427.6H373.5" fill="none" stroke="#1c1c1c" stroke-width="1.1"/>
<path d="M370.8,411.84H373.5" fill="none" stroke="#1c1c1c" stroke-width="1.1"/>
<path d="M370.8,396.08H373.5" fill="none" stroke="#1c1c1c" stroke-width="1.1"/>
<path d="M370.8,380.32H373.5" fill="none" stroke="#1c1c1c" stroke-width="1.1"/>
<path d="M370.8,364.56H373.5" fill="none" stroke="#1c1c1c" stroke-width="1.1"/>
<path d="M370.8,348.8H373.5" fill="none" stroke="#1c1c1c" stroke-width="1.1"/>
<path d="M50.5,502V578M50,577.5H159.7" fill="none" stroke="#1c1c1c" stroke-width="1.1"/>
<path d="M47.8,577.2H50.5" fill="none" stroke="#1c1c1c" stroke-width="1.1"/>
<path d="M47.8,559H50.5" fill="none" stroke="#1c1c1c" stroke-width="1.1"/>
<path d="M47.8,540.8H50.5" fill="none" stroke="#1c1c1c" stroke-width="1.1"/>
<path d="M47.8,522.6H50.5" fill="none" stroke="#1c1c1c" stroke-width="1.1"/>
<path d="M47.8,504.4H50.5" fill="none" stroke="#1c1c1c" stroke-width="1.1"/>
<path d="M213.5,500.8V578M213,577.5H323" fill="none" stroke="#1c1c1c" stroke-width="1.1"/>
<path d="M210.8,577H213.5" fill="none" stroke="#1c1c1c" stroke-width="1.1"/>
<path d="M210.8,552.44H213.5" fill="none" stroke="#1c1c1c" stroke-width="1.1"/>
<path d="M210.8,527.88H213.5" fill="none" stroke="#1c1c1c" stroke-width="1.1"/>
<path d="M210.8,503.32H213.5" fill="none" stroke="#1c1c1c" stroke-width="1.1"/>
<g filter="url(#gs)">
<text transform="translate(6.9,16.35) scale(0.94,1)" font-size="11.6" text-anchor="start" font-weight="bold" fill="#000" stroke="#000" stroke-width="0.35">A</text>
<text transform="translate(210.9,16.55) scale(0.94,1)" font-size="11.6" text-anchor="start" font-weight="bold" fill="#000" stroke="#000" stroke-width="0.35">B</text>
<text transform="translate(7,184.75) scale(0.94,1)" font-size="11.6" text-anchor="start" font-weight="bold" fill="#000" stroke="#000" stroke-width="0.35">C</text>
<text transform="translate(7,483.25) scale(0.94,1)" font-size="11.6" text-anchor="start" font-weight="bold" fill="#000" stroke="#000" stroke-width="0.35">D</text>
<text transform="translate(44.5,133.8)" font-size="6.7" text-anchor="end" font-weight="normal" fill="#262626" stroke="#262626" stroke-width="0.22">0</text>
<text transform="translate(44.5,114.45)" font-size="6.7" text-anchor="end" font-weight="normal" fill="#262626" stroke="#262626" stroke-width="0.22">1</text>
<text transform="translate(44.5,95.1)" font-size="6.7" text-anchor="end" font-weight="normal" fill="#262626" stroke="#262626" stroke-width="0.22">2</text>
<text transform="translate(44.5,75.75)" font-size="6.7" text-anchor="end" font-weight="normal" fill="#262626" stroke="#262626" stroke-width="0.22">3</text>
<text transform="translate(44.5,56.4)" font-size="6.7" text-anchor="end" font-weight="normal" fill="#262626" stroke="#262626" stroke-width="0.22">4</text>
<text transform="translate(44.5,37.05)" font-size="6.7" text-anchor="end" font-weight="normal" fill="#262626" stroke="#262626" stroke-width="0.22">5</text>
<text transform="translate(66.2,37.36)" font-size="5.2" text-anchor="start" font-weight="normal" fill="#444" stroke="#444" stroke-width="0.1">BCR-ABL(-)</text>
<text transform="translate(66.2,47.16)" font-size="5.2" text-anchor="start" font-weight="normal" fill="#444" stroke="#444" stroke-width="0.1">BCR-ABL(+)</text>
<text transform="translate(70.5,142.86)" font-size="6.3" text-anchor="middle" font-weight="normal" fill="#262626" stroke="#262626" stroke-width="0.22">WT</text>
<text transform="translate(101,142.86)" font-size="6.3" text-anchor="middle" font-weight="normal" fill="#262626" stroke="#262626" stroke-width="0.22">DKO</text>
<text transform="translate(142.9,142.86)" font-size="6.3" text-anchor="middle" font-weight="normal" fill="#262626" stroke="#262626" stroke-width="0.22">WT</text>
<text transform="translate(174,142.86)" font-size="6.3" text-anchor="middle" font-weight="normal" fill="#262626" stroke="#262626" stroke-width="0.22">DKO</text>
<text transform="translate(86,153.66)" font-size="6.3" text-anchor="middle" font-weight="normal" fill="#262626" stroke="#262626" stroke-width="0.22">D6</text>
<text transform="translate(158.8,153.66)" font-size="6.3" text-anchor="middle" font-weight="normal" fill="#262626" stroke="#262626" stroke-width="0.22">D9</text>
<text transform="translate(33.86,82) rotate(-90) scale(0.7928476821192053,1)" font-size="7.55" text-anchor="middle" font-weight="normal" fill="#262626" stroke="#262626" stroke-width="0.22">Frequency of MgkL (%)</text>
<text transform="translate(82,82.06)" font-size="5.2" text-anchor="middle" font-weight="normal" fill="#2a2a2a" stroke="#2a2a2a" stroke-width="0.12">N.S.</text>
<text transform="translate(71.5,100.46)" font-size="5.2" text-anchor="middle" font-weight="normal" fill="#262626">**</text>
<text transform="translate(153.8,21.26)" font-size="5.2" text-anchor="middle" font-weight="normal" fill="#2a2a2a" stroke="#2a2a2a" stroke-width="0.12">N.S.</text>
<text transform="translate(142.9,36.26)" font-size="5.2" text-anchor="middle" font-weight="normal" fill="#262626">**</text>
<text transform="translate(229.8,133.86) scale(1.08,1)" font-size="6.3" text-anchor="end" font-weight="normal" fill="#262626" stroke="#262626" stroke-width="0.22">0</text>
<text transform="translate(229.8,107.56) scale(1.08,1)" font-size="6.3" text-anchor="end" font-weight="normal" fill="#262626" stroke="#262626" stroke-width="0.22">5</text>
<text transform="translate(229.8,81.26) scale(1.08,1)" font-size="6.3" text-anchor="end" font-weight="normal" fill="#262626" stroke="#262626" stroke-width="0.22">10</text>
<text transform="translate(229.8,54.96) scale(1.08,1)" font-size="6.3" text-anchor="end" font-weight="normal" fill="#262626" stroke="#262626" stroke-width="0.22">15</text>
<text transform="translate(294.6,38.17)" font-size="8.3" text-anchor="middle" font-weight="normal" fill="#262626" stroke="#262626" stroke-width="0.22">p16</text>
<text transform="translate(216.36,90) rotate(-90) scale(0.7324503311258279,1)" font-size="7.55" text-anchor="middle" font-weight="normal" fill="#262626" stroke="#262626" stroke-width="0.22">Relative expression</text>
<text transform="translate(310.2,55.16)" font-size="5.2" text-anchor="middle" font-weight="normal" fill="#262626">**</text>
<text transform="translate(272.5,100.54)" font-size="5.7" text-anchor="middle" font-weight="normal" fill="#2a2a2a" stroke="#2a2a2a" stroke-width="0.12">N.S.</text>
<text transform="translate(253.1,141.6) rotate(-45)" font-size="6.2" text-anchor="end" font-weight="normal" fill="#262626" stroke="#262626" stroke-width="0.22">BCR-ABL(-)</text>
<text transform="translate(258.47,146.97) rotate(-45)" font-size="6.2" text-anchor="end" font-weight="normal" fill="#262626" stroke="#262626" stroke-width="0.22">Myeloid</text>
<text transform="translate(282.4,141.6) rotate(-45)" font-size="6.2" text-anchor="end" font-weight="normal" fill="#262626" stroke="#262626" stroke-width="0.22">BCR-ABL(+)</text>
<text transform="translate(287.77,146.97) rotate(-45)" font-size="6.2" text-anchor="end" font-weight="normal" fill="#262626" stroke="#262626" stroke-width="0.22">Myeloid</text>
<text transform="translate(312.2,141.6) rotate(-45)" font-size="6.2" text-anchor="end" font-weight="normal" fill="#262626" stroke="#262626" stroke-width="0.22">BCR-ABL(-)</text>
<text transform="translate(317.57,146.97) rotate(-45)" font-size="6.2" text-anchor="end" font-weight="normal" fill="#262626" stroke="#262626" stroke-width="0.22">MgkL</text>
<text transform="translate(341.8,141.6) rotate(-45)" font-size="6.2" text-anchor="end" font-weight="normal" fill="#262626" stroke="#262626" stroke-width="0.22">BCR-ABL(+)</text>
<text transform="translate(347.17,146.97) rotate(-45)" font-size="6.2" text-anchor="end" font-weight="normal" fill="#262626" stroke="#262626" stroke-width="0.22">MgkL</text>
<text transform="translate(389,133.86) scale(1.08,1)" font-size="6.3" text-anchor="end" font-weight="normal" fill="#262626" stroke="#262626" stroke-width="0.22">0</text>
<text transform="translate(389,118.08) scale(1.08,1)" font-size="6.3" text-anchor="end" font-weight="normal" fill="#262626" stroke="#262626" stroke-width="0.22">2</text>
<text transform="translate(389,102.3) scale(1.08,1)" font-size="6.3" text-anchor="end" font-weight="normal" fill="#262626" stroke="#262626" stroke-width="0.22">4</text>
<text transform="translate(389,86.52) scale(1.08,1)" font-size="6.3" text-anchor="end" font-weight="normal" fill="#262626" stroke="#262626" stroke-width="0.22">6</text>
<text transform="translate(389,70.74) scale(1.08,1)" font-size="6.3" text-anchor="end" font-weight="normal" fill="#262626" stroke="#262626" stroke-width="0.22">8</text>
<text transform="translate(389,54.96) scale(1.08,1)" font-size="6.3" text-anchor="end" font-weight="normal" fill="#262626" stroke="#262626" stroke-width="0.22">10</text>
<text transform="translate(449.5,38.17)" font-size="8.3" text-anchor="middle" font-weight="normal" fill="#262626" stroke="#262626" stroke-width="0.22">p21</text>
<text transform="translate(375.96,90) rotate(-90) scale(0.7324503311258279,1)" font-size="7.55" text-anchor="middle" font-weight="normal" fill="#262626" stroke="#262626" stroke-width="0.22">Relative expression</text>
<text transform="translate(469.5,52.56)" font-size="5.2" text-anchor="middle" font-weight="normal" fill="#262626">**</text>
<text transform="translate(430.4,83.44)" font-size="5.7" text-anchor="middle" font-weight="normal" fill="#2a2a2a" stroke="#2a2a2a" stroke-width="0.12">N.S.</text>
<text transform="translate(411.8,141.6) rotate(-45)" font-size="6.2" text-anchor="end" font-weight="normal" fill="#262626" stroke="#262626" stroke-width="0.22">BCR-ABL(-)</text>
<text transform="translate(417.17,146.97) rotate(-45)" font-size="6.2" text-anchor="end" font-weight="normal" fill="#262626" stroke="#262626" stroke-width="0.22">Myeloid</text>
<text transform="translate(441.35,141.6) rotate(-45)" font-size="6.2" text-anchor="end" font-weight="normal" fill="#262626" stroke="#262626" stroke-width="0.22">BCR-ABL(+)</text>
<text transform="translate(446.72,146.97) rotate(-45)" font-size="6.2" text-anchor="end" font-weight="normal" fill="#262626" stroke="#262626" stroke-width="0.22">Myeloid</text>
<text transform="translate(471,141.6) rotate(-45)" font-size="6.2" text-anchor="end" font-weight="normal" fill="#262626" stroke="#262626" stroke-width="0.22">BCR-ABL(-)</text>
<text transform="translate(476.37,146.97) rotate(-45)" font-size="6.2" text-anchor="end" font-weight="normal" fill="#262626" stroke="#262626" stroke-width="0.22">MgkL</text>
<text transform="translate(500.8,141.6) rotate(-45)" font-size="6.2" text-anchor="end" font-weight="normal" fill="#262626" stroke="#262626" stroke-width="0.22">BCR-ABL(+)</text>
<text transform="translate(506.17,146.97) rotate(-45)" font-size="6.2" text-anchor="end" font-weight="normal" fill="#262626" stroke="#262626" stroke-width="0.22">MgkL</text>
<text transform="translate(44.5,286.96) scale(1.08,1)" font-size="6.3" text-anchor="end" font-weight="normal" fill="#262626" stroke="#262626" stroke-width="0.22">0</text>
<text transform="translate(44.5,260.66) scale(1.08,1)" font-size="6.3" text-anchor="end" font-weight="normal" fill="#262626" stroke="#262626" stroke-width="0.22">2</text>
<text transform="translate(44.5,234.36) scale(1.08,1)" font-size="6.3" text-anchor="end" font-weight="normal" fill="#262626" stroke="#262626" stroke-width="0.22">4</text>
<text transform="translate(44.5,208.06) scale(1.08,1)" font-size="6.3" text-anchor="end" font-weight="normal" fill="#262626" stroke="#262626" stroke-width="0.22">6</text>
<text transform="translate(109.7,191.64)" font-size="8.2" text-anchor="middle" font-weight="normal" fill="#262626" stroke="#262626" stroke-width="0.3">TGF-&#946;</text>
<text transform="translate(34.96,243) rotate(-90) scale(0.7324503311258279,1)" font-size="7.55" text-anchor="middle" font-weight="normal" fill="#262626" stroke="#262626" stroke-width="0.22">Relative expression</text>
<text transform="translate(66.35,294.8) rotate(-45)" font-size="6.2" text-anchor="end" font-weight="normal" fill="#262626" stroke="#262626" stroke-width="0.22">BCR-ABL(-)</text>
<text transform="translate(71.72,300.17) rotate(-45)" font-size="6.2" text-anchor="end" font-weight="normal" fill="#262626" stroke="#262626" stroke-width="0.22">Myeloid</text>
<text transform="translate(96.05,294.8) rotate(-45)" font-size="6.2" text-anchor="end" font-weight="normal" fill="#262626" stroke="#262626" stroke-width="0.22">BCR-ABL(+)</text>
<text transform="translate(101.42,300.17) rotate(-45)" font-size="6.2" text-anchor="end" font-weight="normal" fill="#262626" stroke="#262626" stroke-width="0.22">Myeloid</text>
<text transform="translate(125.65,294.8) rotate(-45)" font-size="6.2" text-anchor="end" font-weight="normal" fill="#262626" stroke="#262626" stroke-width="0.22">BCR-ABL(-)</text>
<text transform="translate(131.02,300.17) rotate(-45)" font-size="6.2" text-anchor="end" font-weight="normal" fill="#262626" stroke="#262626" stroke-width="0.22">MgkL</text>
<text transform="translate(155.35,294.8) rotate(-45)" font-size="6.2" text-anchor="end" font-weight="normal" fill="#262626" stroke="#262626" stroke-width="0.22">BCR-ABL(+)</text>
<text transform="translate(160.72,300.17) rotate(-45)" font-size="6.2" text-anchor="end" font-weight="normal" fill="#262626" stroke="#262626" stroke-width="0.22">MgkL</text>
<text transform="translate(124.7,205.46)" font-size="5.2" text-anchor="middle" font-weight="normal" fill="#262626">**</text>
<text transform="translate(90.8,230.26)" font-size="5.2" text-anchor="middle" font-weight="normal" fill="#262626">**</text>
<text transform="translate(79.5,255.59)" font-size="5" text-anchor="middle" font-weight="normal" fill="#2a2a2a" stroke="#2a2a2a" stroke-width="0.12">N.S.</text>
<text transform="translate(19.8,245.22)" font-size="6.2" text-anchor="middle" font-weight="normal" fill="#262626" stroke="#262626" stroke-width="0.22">WT</text>
<text transform="translate(208,286.96) scale(1.08,1)" font-size="6.3" text-anchor="end" font-weight="normal" fill="#262626" stroke="#262626" stroke-width="0.22">0</text>
<text transform="translate(208,271.22) scale(1.08,1)" font-size="6.3" text-anchor="end" font-weight="normal" fill="#262626" stroke="#262626" stroke-width="0.22">50</text>
<text transform="translate(208,255.48) scale(1.08,1)" font-size="6.3" text-anchor="end" font-weight="normal" fill="#262626" stroke="#262626" stroke-width="0.22">100</text>
<text transform="translate(208,239.74) scale(1.08,1)" font-size="6.3" text-anchor="end" font-weight="normal" fill="#262626" stroke="#262626" stroke-width="0.22">150</text>
<text transform="translate(208,224) scale(1.08,1)" font-size="6.3" text-anchor="end" font-weight="normal" fill="#262626" stroke="#262626" stroke-width="0.22">200</text>
<text transform="translate(208,208.26) scale(1.08,1)" font-size="6.3" text-anchor="end" font-weight="normal" fill="#262626" stroke="#262626" stroke-width="0.22">250</text>
<text transform="translate(273,191.44)" font-size="8.2" text-anchor="middle" font-weight="normal" fill="#262626" stroke="#262626" stroke-width="0.3">IL-6</text>
<text transform="translate(191.46,243) rotate(-90) scale(0.7324503311258279,1)" font-size="7.55" text-anchor="middle" font-weight="normal" fill="#262626" stroke="#262626" stroke-width="0.22">Relative expression</text>
<text transform="translate(231.25,294.1) rotate(-45)" font-size="6.2" text-anchor="end" font-weight="normal" fill="#262626" stroke="#262626" stroke-width="0.22">BCR-ABL(-)</text>
<text transform="translate(236.62,299.47) rotate(-45)" font-size="6.2" text-anchor="end" font-weight="normal" fill="#262626" stroke="#262626" stroke-width="0.22">Myeloid</text>
<text transform="translate(260.9,294.1) rotate(-45)" font-size="6.2" text-anchor="end" font-weight="normal" fill="#262626" stroke="#262626" stroke-width="0.22">BCR-ABL(+)</text>
<text transform="translate(266.27,299.47) rotate(-45)" font-size="6.2" text-anchor="end" font-weight="normal" fill="#262626" stroke="#262626" stroke-width="0.22">Myeloid</text>
<text transform="translate(290.35,294.1) rotate(-45)" font-size="6.2" text-anchor="end" font-weight="normal" fill="#262626" stroke="#262626" stroke-width="0.22">BCR-ABL(-)</text>
<text transform="translate(295.72,299.47) rotate(-45)" font-size="6.2" text-anchor="end" font-weight="normal" fill="#262626" stroke="#262626" stroke-width="0.22">MgkL</text>
<text transform="translate(319.75,294.1) rotate(-45)" font-size="6.2" text-anchor="end" font-weight="normal" fill="#262626" stroke="#262626" stroke-width="0.22">BCR-ABL(+)</text>
<text transform="translate(325.12,299.47) rotate(-45)" font-size="6.2" text-anchor="end" font-weight="normal" fill="#262626" stroke="#262626" stroke-width="0.22">MgkL</text>
<text transform="translate(289.7,202.56)" font-size="5.2" text-anchor="middle" font-weight="normal" fill="#262626">**</text>
<text transform="translate(256.9,240.66)" font-size="5.2" text-anchor="middle" font-weight="normal" fill="#262626">**</text>
<text transform="translate(242.3,263.06)" font-size="5.2" text-anchor="middle" font-weight="normal" fill="#262626">*</text>
<text transform="translate(367.1,286.96) scale(1.08,1)" font-size="6.3" text-anchor="end" font-weight="normal" fill="#262626" stroke="#262626" stroke-width="0.22">0</text>
<text transform="translate(367.1,267.36) scale(1.08,1)" font-size="6.3" text-anchor="end" font-weight="normal" fill="#262626" stroke="#262626" stroke-width="0.22">5</text>
<text transform="translate(367.1,247.76) scale(1.08,1)" font-size="6.3" text-anchor="end" font-weight="normal" fill="#262626" stroke="#262626" stroke-width="0.22">10</text>
<text transform="translate(367.1,228.16) scale(1.08,1)" font-size="6.3" text-anchor="end" font-weight="normal" fill="#262626" stroke="#262626" stroke-width="0.22">15</text>
<text transform="translate(367.1,208.56) scale(1.08,1)" font-size="6.3" text-anchor="end" font-weight="normal" fill="#262626" stroke="#262626" stroke-width="0.22">20</text>
<text transform="translate(431.7,191.44)" font-size="8.2" text-anchor="middle" font-weight="normal" fill="#262626" stroke="#262626" stroke-width="0.3">IL-1&#945;</text>
<text transform="translate(356.96,243) rotate(-90) scale(0.7324503311258279,1)" font-size="7.55" text-anchor="middle" font-weight="normal" fill="#262626" stroke="#262626" stroke-width="0.22">Relative expression</text>
<text transform="translate(390.15,294.5) rotate(-45)" font-size="6.2" text-anchor="end" font-weight="normal" fill="#262626" stroke="#262626" stroke-width="0.22">BCR-ABL(-)</text>
<text transform="translate(395.52,299.87) rotate(-45)" font-size="6.2" text-anchor="end" font-weight="normal" fill="#262626" stroke="#262626" stroke-width="0.22">Myeloid</text>
<text transform="translate(419.7,294.5) rotate(-45)" font-size="6.2" text-anchor="end" font-weight="normal" fill="#262626" stroke="#262626" stroke-width="0.22">BCR-ABL(+)</text>
<text transform="translate(425.07,299.87) rotate(-45)" font-size="6.2" text-anchor="end" font-weight="normal" fill="#262626" stroke="#262626" stroke-width="0.22">Myeloid</text>
<text transform="translate(449.1,294.5) rotate(-45)" font-size="6.2" text-anchor="end" font-weight="normal" fill="#262626" stroke="#262626" stroke-width="0.22">BCR-ABL(-)</text>
<text transform="translate(454.47,299.87) rotate(-45)" font-size="6.2" text-anchor="end" font-weight="normal" fill="#262626" stroke="#262626" stroke-width="0.22">MgkL</text>
<text transform="translate(478.5,294.5) rotate(-45)" font-size="6.2" text-anchor="end" font-weight="normal" fill="#262626" stroke="#262626" stroke-width="0.22">BCR-ABL(+)</text>
<text transform="translate(483.87,299.87) rotate(-45)" font-size="6.2" text-anchor="end" font-weight="normal" fill="#262626" stroke="#262626" stroke-width="0.22">MgkL</text>
<text transform="translate(417.7,205.69)" font-size="5" text-anchor="middle" font-weight="normal" fill="#2a2a2a" stroke="#2a2a2a" stroke-width="0.12">N.S.</text>
<text transform="translate(401.8,225.36)" font-size="5.2" text-anchor="middle" font-weight="normal" fill="#262626">**</text>
<text transform="translate(462.4,221.86)" font-size="5.2" text-anchor="middle" font-weight="normal" fill="#262626">**</text>
<text transform="translate(44.8,430.16) scale(1.08,1)" font-size="6.3" text-anchor="end" font-weight="normal" fill="#262626" stroke="#262626" stroke-width="0.22">0</text>
<text transform="translate(44.8,414.52) scale(1.08,1)" font-size="6.3" text-anchor="end" font-weight="normal" fill="#262626" stroke="#262626" stroke-width="0.22">0.5</text>
<text transform="translate(44.8,398.88) scale(1.08,1)" font-size="6.3" text-anchor="end" font-weight="normal" fill="#262626" stroke="#262626" stroke-width="0.22">1.0</text>
<text transform="translate(44.8,383.24) scale(1.08,1)" font-size="6.3" text-anchor="end" font-weight="normal" fill="#262626" stroke="#262626" stroke-width="0.22">1.5</text>
<text transform="translate(44.8,367.6) scale(1.08,1)" font-size="6.3" text-anchor="end" font-weight="normal" fill="#262626" stroke="#262626" stroke-width="0.22">2.0</text>
<text transform="translate(44.8,351.96) scale(1.08,1)" font-size="6.3" text-anchor="end" font-weight="normal" fill="#262626" stroke="#262626" stroke-width="0.22">2.5</text>
<text transform="translate(29.36,387) rotate(-90) scale(0.7324503311258279,1)" font-size="7.55" text-anchor="middle" font-weight="normal" fill="#262626" stroke="#262626" stroke-width="0.22">Relative expression</text>
<text transform="translate(66.15,438) rotate(-45)" font-size="6.2" text-anchor="end" font-weight="normal" fill="#262626" stroke="#262626" stroke-width="0.22">BCR-ABL(-)</text>
<text transform="translate(71.52,443.37) rotate(-45)" font-size="6.2" text-anchor="end" font-weight="normal" fill="#262626" stroke="#262626" stroke-width="0.22">Myeloid</text>
<text transform="translate(95.6,438) rotate(-45)" font-size="6.2" text-anchor="end" font-weight="normal" fill="#262626" stroke="#262626" stroke-width="0.22">BCR-ABL(+)</text>
<text transform="translate(100.97,443.37) rotate(-45)" font-size="6.2" text-anchor="end" font-weight="normal" fill="#262626" stroke="#262626" stroke-width="0.22">Myeloid</text>
<text transform="translate(125.45,438) rotate(-45)" font-size="6.2" text-anchor="end" font-weight="normal" fill="#262626" stroke="#262626" stroke-width="0.22">BCR-ABL(-)</text>
<text transform="translate(130.82,443.37) rotate(-45)" font-size="6.2" text-anchor="end" font-weight="normal" fill="#262626" stroke="#262626" stroke-width="0.22">MgkL</text>
<text transform="translate(154.6,438) rotate(-45)" font-size="6.2" text-anchor="end" font-weight="normal" fill="#262626" stroke="#262626" stroke-width="0.22">BCR-ABL(+)</text>
<text transform="translate(159.97,443.37) rotate(-45)" font-size="6.2" text-anchor="end" font-weight="normal" fill="#262626" stroke="#262626" stroke-width="0.22">MgkL</text>
<text transform="translate(97.5,349.76)" font-size="5.2" text-anchor="middle" font-weight="normal" fill="#262626">*</text>
<text transform="translate(78.9,375.99)" font-size="5" text-anchor="middle" font-weight="normal" fill="#2a2a2a" stroke="#2a2a2a" stroke-width="0.12">N.S.</text>
<text transform="translate(138.5,340.09)" font-size="5" text-anchor="middle" font-weight="normal" fill="#2a2a2a" stroke="#2a2a2a" stroke-width="0.12">N.S.</text>
<text transform="translate(13.3,389.02)" font-size="6.2" text-anchor="middle" font-weight="normal" fill="#262626" stroke="#262626" stroke-width="0.22">DKO</text>
<text transform="translate(208,430.36) scale(1.08,1)" font-size="6.3" text-anchor="end" font-weight="normal" fill="#262626" stroke="#262626" stroke-width="0.22">0</text>
<text transform="translate(208,404.11) scale(1.08,1)" font-size="6.3" text-anchor="end" font-weight="normal" fill="#262626" stroke="#262626" stroke-width="0.22">5</text>
<text transform="translate(208,377.86) scale(1.08,1)" font-size="6.3" text-anchor="end" font-weight="normal" fill="#262626" stroke="#262626" stroke-width="0.22">10</text>
<text transform="translate(208,351.61) scale(1.08,1)" font-size="6.3" text-anchor="end" font-weight="normal" fill="#262626" stroke="#262626" stroke-width="0.22">15</text>
<text transform="translate(195.06,387) rotate(-90) scale(0.7324503311258279,1)" font-size="7.55" text-anchor="middle" font-weight="normal" fill="#262626" stroke="#262626" stroke-width="0.22">Relative expression</text>
<text transform="translate(230.45,437.9) rotate(-45)" font-size="6.2" text-anchor="end" font-weight="normal" fill="#262626" stroke="#262626" stroke-width="0.22">BCR-ABL(-)</text>
<text transform="translate(235.82,443.27) rotate(-45)" font-size="6.2" text-anchor="end" font-weight="normal" fill="#262626" stroke="#262626" stroke-width="0.22">Myeloid</text>
<text transform="translate(260.05,437.9) rotate(-45)" font-size="6.2" text-anchor="end" font-weight="normal" fill="#262626" stroke="#262626" stroke-width="0.22">BCR-ABL(+)</text>
<text transform="translate(265.42,443.27) rotate(-45)" font-size="6.2" text-anchor="end" font-weight="normal" fill="#262626" stroke="#262626" stroke-width="0.22">Myeloid</text>
<text transform="translate(289.55,437.9) rotate(-45)" font-size="6.2" text-anchor="end" font-weight="normal" fill="#262626" stroke="#262626" stroke-width="0.22">BCR-ABL(-)</text>
<text transform="translate(294.92,443.27) rotate(-45)" font-size="6.2" text-anchor="end" font-weight="normal" fill="#262626" stroke="#262626" stroke-width="0.22">MgkL</text>
<text transform="translate(318.9,437.9) rotate(-45)" font-size="6.2" text-anchor="end" font-weight="normal" fill="#262626" stroke="#262626" stroke-width="0.22">BCR-ABL(+)</text>
<text transform="translate(324.27,443.27) rotate(-45)" font-size="6.2" text-anchor="end" font-weight="normal" fill="#262626" stroke="#262626" stroke-width="0.22">MgkL</text>
<text transform="translate(262,354.56)" font-size="5.2" text-anchor="middle" font-weight="normal" fill="#262626">**</text>
<text transform="translate(242,396.16)" font-size="5.2" text-anchor="middle" font-weight="normal" fill="#262626">*</text>
<text transform="translate(301.9,344.66)" font-size="5.2" text-anchor="middle" font-weight="normal" fill="#262626">**</text>
<text transform="translate(367.3,430.36) scale(1.08,1)" font-size="6.3" text-anchor="end" font-weight="normal" fill="#262626" stroke="#262626" stroke-width="0.22">0</text>
<text transform="translate(367.3,414.6) scale(1.08,1)" font-size="6.3" text-anchor="end" font-weight="normal" fill="#262626" stroke="#262626" stroke-width="0.22">1</text>
<text transform="translate(367.3,398.84) scale(1.08,1)" font-size="6.3" text-anchor="end" font-weight="normal" fill="#262626" stroke="#262626" stroke-width="0.22">2</text>
<text transform="translate(367.3,383.08) scale(1.08,1)" font-size="6.3" text-anchor="end" font-weight="normal" fill="#262626" stroke="#262626" stroke-width="0.22">3</text>
<text transform="translate(367.3,367.32) scale(1.08,1)" font-size="6.3" text-anchor="end" font-weight="normal" fill="#262626" stroke="#262626" stroke-width="0.22">4</text>
<text transform="translate(367.3,351.56) scale(1.08,1)" font-size="6.3" text-anchor="end" font-weight="normal" fill="#262626" stroke="#262626" stroke-width="0.22">5</text>
<text transform="translate(357.36,387) rotate(-90) scale(0.7324503311258279,1)" font-size="7.55" text-anchor="middle" font-weight="normal" fill="#262626" stroke="#262626" stroke-width="0.22">Relative expression</text>
<text transform="translate(390.25,437.9) rotate(-45)" font-size="6.2" text-anchor="end" font-weight="normal" fill="#262626" stroke="#262626" stroke-width="0.22">BCR-ABL(-)</text>
<text transform="translate(395.62,443.27) rotate(-45)" font-size="6.2" text-anchor="end" font-weight="normal" fill="#262626" stroke="#262626" stroke-width="0.22">Myeloid</text>
<text transform="translate(419.65,437.9) rotate(-45)" font-size="6.2" text-anchor="end" font-weight="normal" fill="#262626" stroke="#262626" stroke-width="0.22">BCR-ABL(+)</text>
<text transform="translate(425.02,443.27) rotate(-45)" font-size="6.2" text-anchor="end" font-weight="normal" fill="#262626" stroke="#262626" stroke-width="0.22">Myeloid</text>
<text transform="translate(449.2,437.9) rotate(-45)" font-size="6.2" text-anchor="end" font-weight="normal" fill="#262626" stroke="#262626" stroke-width="0.22">BCR-ABL(-)</text>
<text transform="translate(454.57,443.27) rotate(-45)" font-size="6.2" text-anchor="end" font-weight="normal" fill="#262626" stroke="#262626" stroke-width="0.22">MgkL</text>
<text transform="translate(478.65,437.9) rotate(-45)" font-size="6.2" text-anchor="end" font-weight="normal" fill="#262626" stroke="#262626" stroke-width="0.22">BCR-ABL(+)</text>
<text transform="translate(484.02,443.27) rotate(-45)" font-size="6.2" text-anchor="end" font-weight="normal" fill="#262626" stroke="#262626" stroke-width="0.22">MgkL</text>
<text transform="translate(431.8,343.86)" font-size="5.2" text-anchor="middle" font-weight="normal" fill="#262626">**</text>
<text transform="translate(414.6,354.79)" font-size="5" text-anchor="middle" font-weight="normal" fill="#2a2a2a" stroke="#2a2a2a" stroke-width="0.12">N.S.</text>
<text transform="translate(402.3,365.06)" font-size="5.2" text-anchor="middle" font-weight="normal" fill="#262626">**</text>
<text transform="translate(461.2,352.06)" font-size="5.2" text-anchor="middle" font-weight="normal" fill="#262626">**</text>
<text transform="translate(44.5,579.96) scale(1.08,1)" font-size="6.3" text-anchor="end" font-weight="normal" fill="#262626" stroke="#262626" stroke-width="0.22">0</text>
<text transform="translate(44.5,561.76) scale(1.08,1)" font-size="6.3" text-anchor="end" font-weight="normal" fill="#262626" stroke="#262626" stroke-width="0.22">2</text>
<text transform="translate(44.5,543.56) scale(1.08,1)" font-size="6.3" text-anchor="end" font-weight="normal" fill="#262626" stroke="#262626" stroke-width="0.22">4</text>
<text transform="translate(44.5,525.36) scale(1.08,1)" font-size="6.3" text-anchor="end" font-weight="normal" fill="#262626" stroke="#262626" stroke-width="0.22">6</text>
<text transform="translate(44.5,507.16) scale(1.08,1)" font-size="6.3" text-anchor="end" font-weight="normal" fill="#262626" stroke="#262626" stroke-width="0.22">8</text>
<text transform="translate(105,489.54)" font-size="8.2" text-anchor="middle" font-weight="normal" fill="#262626" stroke="#262626" stroke-width="0.22">WT</text>
<text transform="translate(35.06,539.6) rotate(-90) scale(0.7417218543046359,1)" font-size="7.55" text-anchor="middle" font-weight="normal" fill="#262626" stroke="#262626" stroke-width="0.22">Normalized MFI value</text>
<text transform="translate(66.05,587.8) rotate(-45)" font-size="6.2" text-anchor="end" font-weight="normal" fill="#262626" stroke="#262626" stroke-width="0.22">BCR-ABL (-) Total</text>
<text transform="translate(93.5,587.8) rotate(-45)" font-size="6.2" text-anchor="end" font-weight="normal" fill="#262626" stroke="#262626" stroke-width="0.22">BCR-ABL (+) Total</text>
<text transform="translate(120.85,587.8) rotate(-45)" font-size="6.2" text-anchor="end" font-weight="normal" fill="#262626" stroke="#262626" stroke-width="0.22">BCR-ABL (-) MgkL</text>
<text transform="translate(148.05,587.8) rotate(-45)" font-size="6.2" text-anchor="end" font-weight="normal" fill="#262626" stroke="#262626" stroke-width="0.22">BCR-ABL (+) MgkL</text>
<text transform="translate(94.2,500.66)" font-size="5.2" text-anchor="middle" font-weight="normal" fill="#262626">**</text>
<text transform="translate(76.9,555.59)" font-size="5" text-anchor="middle" font-weight="normal" fill="#2a2a2a" stroke="#2a2a2a" stroke-width="0.12">N.S.</text>
<text transform="translate(131.5,495.16)" font-size="5.2" text-anchor="middle" font-weight="normal" fill="#262626">**</text>
<text transform="translate(207.9,579.76) scale(1.08,1)" font-size="6.3" text-anchor="end" font-weight="normal" fill="#262626" stroke="#262626" stroke-width="0.22">0</text>
<text transform="translate(207.9,555.2) scale(1.08,1)" font-size="6.3" text-anchor="end" font-weight="normal" fill="#262626" stroke="#262626" stroke-width="0.22">2</text>
<text transform="translate(207.9,530.64) scale(1.08,1)" font-size="6.3" text-anchor="end" font-weight="normal" fill="#262626" stroke="#262626" stroke-width="0.22">4</text>
<text transform="translate(207.9,506.08) scale(1.08,1)" font-size="6.3" text-anchor="end" font-weight="normal" fill="#262626" stroke="#262626" stroke-width="0.22">6</text>
<text transform="translate(268,489.54)" font-size="8.2" text-anchor="middle" font-weight="normal" fill="#262626" stroke="#262626" stroke-width="0.22">DKO</text>
<text transform="translate(197.46,539) rotate(-90) scale(0.7417218543046359,1)" font-size="7.55" text-anchor="middle" font-weight="normal" fill="#262626" stroke="#262626" stroke-width="0.22">Normalized MFI value</text>
<text transform="translate(229.3,587.6) rotate(-45)" font-size="6.2" text-anchor="end" font-weight="normal" fill="#262626" stroke="#262626" stroke-width="0.22">BCR-ABL (-) Total</text>
<text transform="translate(257.15,587.6) rotate(-45)" font-size="6.2" text-anchor="end" font-weight="normal" fill="#262626" stroke="#262626" stroke-width="0.22">BCR-ABL (+) Total</text>
<text transform="translate(284.95,587.6) rotate(-45)" font-size="6.2" text-anchor="end" font-weight="normal" fill="#262626" stroke="#262626" stroke-width="0.22">BCR-ABL (-) MgkL</text>
<text transform="translate(312.8,587.6) rotate(-45)" font-size="6.2" text-anchor="end" font-weight="normal" fill="#262626" stroke="#262626" stroke-width="0.22">BCR-ABL (+) MgkL</text>
<text transform="translate(261.3,504.66)" font-size="5.2" text-anchor="middle" font-weight="normal" fill="#262626">**</text>
<text transform="translate(240.3,549.29)" font-size="5" text-anchor="middle" font-weight="normal" fill="#2a2a2a" stroke="#2a2a2a" stroke-width="0.12">N.S.</text>
<text transform="translate(295.2,495.89)" font-size="5" text-anchor="middle" font-weight="normal" fill="#2a2a2a" stroke="#2a2a2a" stroke-width="0.12">N.S.</text>
</g>
</svg></body></html>
